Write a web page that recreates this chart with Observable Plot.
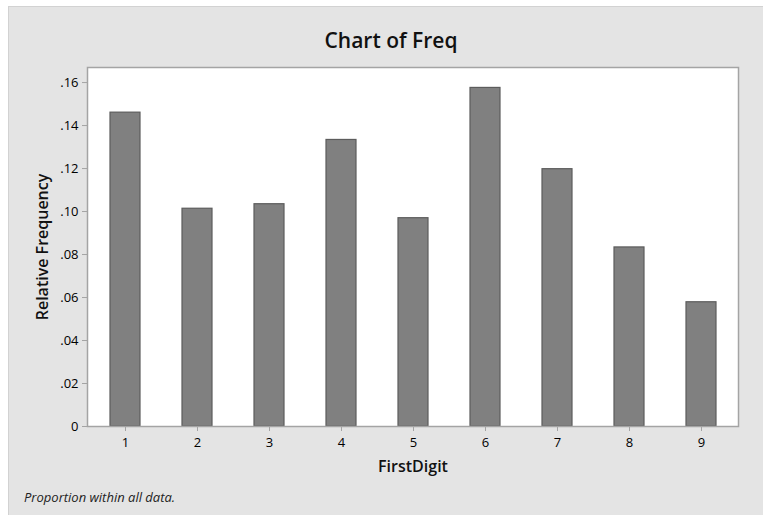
<!DOCTYPE html>
<html>
<head>
<meta charset="utf-8">
<script src="https://cdn.jsdelivr.net/npm/d3@7"></script>
<script src="https://cdn.jsdelivr.net/npm/@observablehq/plot@0.6"></script>
<style>
  html, body { margin: 0; padding: 0; background: #fff; }
  #root { position: relative; width: 763px; height: 515px; overflow: hidden; background: #fff; font-family: "Open Sans", sans-serif; }
  #panel { position: absolute; left: 8px; top: 6px; width: 755px; height: 509px; background: #e4e4e4; border-top: 1px solid #d2d2d2; border-left: 1px solid #d2d2d2; box-sizing: border-box; }
  #title { position: absolute; left: 391px; top: 29px; transform: translateX(-50%); font-size: 21px; line-height: 22px; font-weight: 600; color: #111; white-space: nowrap; }
  #chart { position: absolute; left: 0; top: 47px; }
  #caption { position: absolute; left: 24px; top: 491px; font-size: 13px; line-height: 13px; font-style: italic; color: #222; white-space: nowrap; }
</style>
</head>
<body>
<div id="root">
  <div id="panel"></div>
  <div id="title">Chart of Freq</div>
  <div id="chart"></div>
  <div id="caption">Proportion within all data.</div>
</div>
<script>
const digits = ["1", "2", "3", "4", "5", "6", "7", "8", "9"];
const freq = [0.146, 0.1013, 0.1034, 0.1333, 0.0969, 0.1575, 0.1197, 0.0833, 0.0578];
const yTicks = [0, 0.02, 0.04, 0.06, 0.08, 0.10, 0.12, 0.14, 0.16];
const xLabel = "FirstDigit";
const yLabel = "Relative Frequency";

const data = digits.map((d, i) => ({digit: d, freq: freq[i]}));
const fmt = v => v === 0 ? "0" : v.toFixed(2).replace(/^0/, "");

const chart = Plot.plot({
  width: 763,
  height: 433,
  marginTop: 20,
  marginBottom: 54,
  marginLeft: 87,
  marginRight: 25,
  style: {background: "transparent", fontFamily: "'Open Sans', sans-serif", fontSize: "13px", color: "#000", overflow: "visible"},
  x: {domain: digits, paddingInner: 0.585, paddingOuter: 0.2975, label: null, axis: null},
  y: {domain: [0, 0.167], label: null, axis: null},
  marks: [
    Plot.frame({fill: "white", stroke: "none"}),
    Plot.barY(data, {x: "digit", y: "freq", fill: "#808080", stroke: "#5c5c5c", strokeWidth: 1.2}),
    Plot.frame({stroke: "#a4a4a4", strokeWidth: 1.5}),
    Plot.axisY(yTicks, {tickFormat: fmt, tickSize: 5, tickPadding: 4, stroke: "#a4a4a4", fill: "#000", label: null}),
    Plot.axisX(digits, {tickSize: 5, tickPadding: 6, stroke: "#a4a4a4", fill: "#000", label: null}),
    Plot.text([yLabel], {frameAnchor: "left", textAnchor: "middle", lineAnchor: "middle", rotate: -90, dx: -45, fontSize: 16, fontWeight: 600, fill: "#111"}),
    Plot.text([xLabel], {frameAnchor: "bottom", textAnchor: "middle", lineAnchor: "middle", dy: 40, fontSize: 16, fontWeight: 600, fill: "#111"})
  ]
});
document.getElementById("chart").appendChild(chart);
</script>
</body>
</html>
